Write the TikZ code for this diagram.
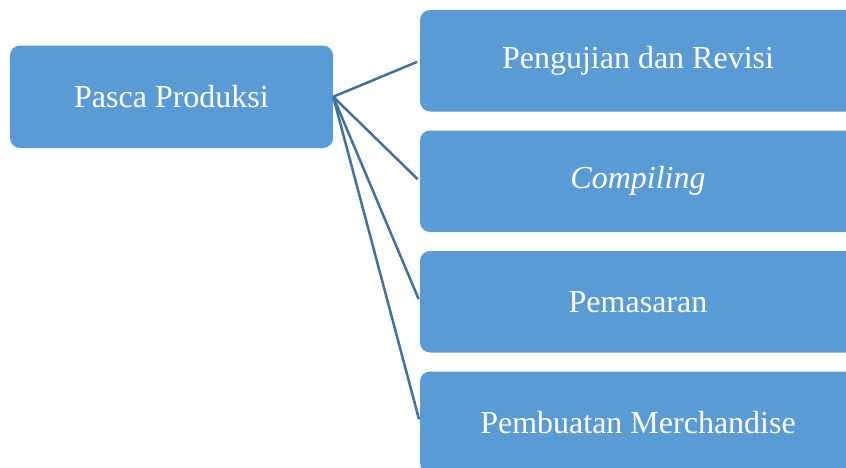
\documentclass[tikz,border=0pt]{standalone}
\usepackage{fontspec}
\setmainfont{Liberation Serif}
\definecolor{boxblue}{HTML}{5B9BD5}
\definecolor{lineblue}{HTML}{41719C}
\begin{document}
\begin{tikzpicture}[x=1pt,y=-1pt,
  blk/.style={fill=boxblue,draw=none,rounded corners=10pt,text=white,
    font=\fontsize{32}{38}\selectfont,inner sep=0pt,anchor=center},
  conn/.style={draw=lineblue,line width=2.5pt,shorten >=3pt}]
\useasboundingbox (0,0) rectangle (846,467);
\clip (0,0) rectangle (846,467);
\node[blk,minimum width=323pt,minimum height=102.5pt] (L) at (171.5,96.75) {Pasca Produksi};
\node[blk,minimum width=436pt,minimum height=101.5pt] (r1) at (638,60.75) {Pengujian dan Revisi};
\node[blk,minimum width=436pt,minimum height=101.5pt] (r2) at (638,181.25) {\itshape Compiling};
\node[blk,minimum width=436pt,minimum height=101.5pt] (r3) at (638,301.75) {Pemasaran};
\node[blk,minimum width=436pt,minimum height=101.5pt] (r4) at (638,422.25) {Pembuatan Merchandise};
\draw[conn] (L.east) -- (r1.west);
\draw[conn] (L.east) -- (r2.west);
\draw[conn] (L.east) -- (r3.west);
\draw[conn] (L.east) -- (r4.west);
\end{tikzpicture}
\end{document}
